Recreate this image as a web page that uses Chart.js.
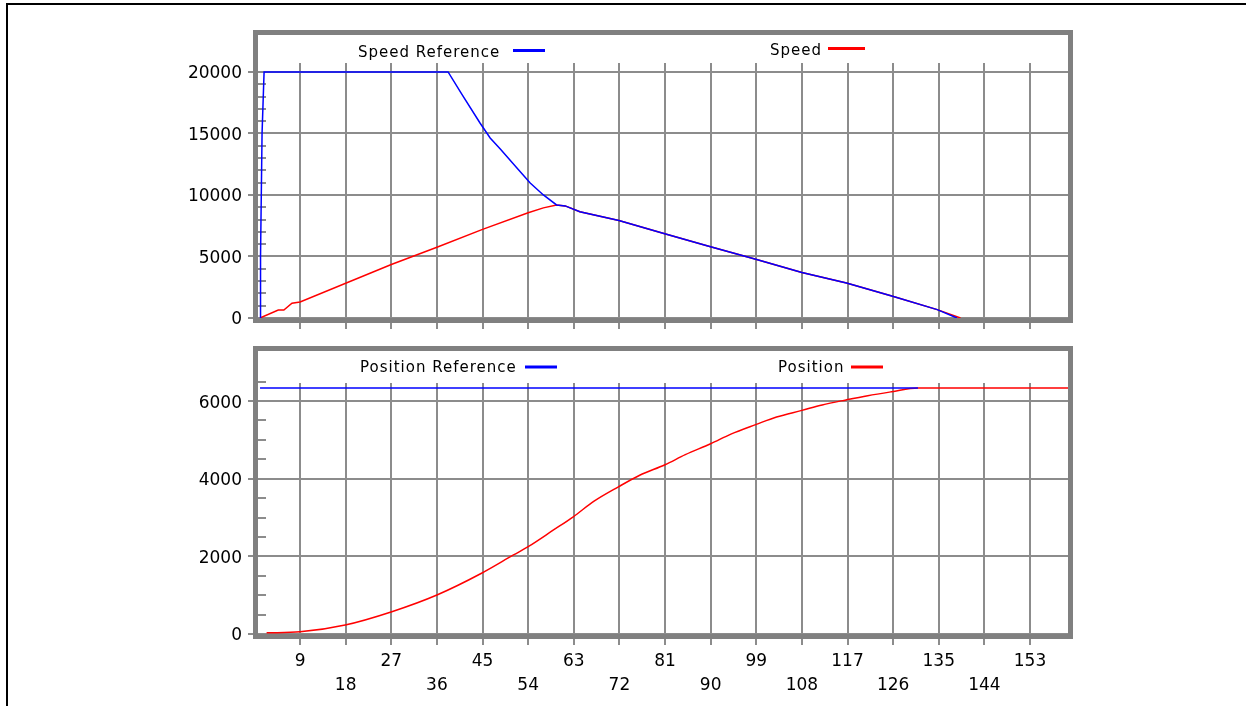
<!DOCTYPE html>
<html>
<head>
<meta charset="utf-8">
<script src="https://cdn.jsdelivr.net/npm/chart.js@4.4.1/dist/chart.umd.min.js"></script>
<style>
    html, body { margin: 0; padding: 0; background: #fff; }
    body { width: 1246px; height: 706px; position: relative; overflow: hidden; }
    #page { position: absolute; left: 6px; top: 3px; width: 1240px; height: 703px;
            border-left: 2px solid #000; border-top: 2px solid #000; box-sizing: border-box; }
    canvas { position: absolute; left: 0; top: 0; }
</style>
</head>
<body>
<div id="page"></div>
<canvas id="speedChart" width="1246" height="706"></canvas>
<canvas id="posChart" width="1246" height="706"></canvas>
<script>
// ---- data ----
const xTicks = [9, 18, 27, 36, 45, 54, 63, 72, 81, 90, 99, 108, 117, 126, 135, 144, 153];
const speedTicks = [0, 5000, 10000, 15000, 20000];
const posTicks = [0, 2000, 4000, 6000];

const speedRefX = [1.1, 1.2, 1.5, 1.9, 38.2, 40.9, 44.5, 46.5, 48.5, 51.7, 54.4, 57, 59.6, 61.3, 64.2, 71.9, 80.6, 89.8, 98.9, 108, 116.8, 125.9, 134.7, 138.6];
const speedRefY = [0, 5000, 15000, 20000, 20000, 18200, 15850, 14630, 13740, 12240, 10975, 10000, 9190, 9110, 8640, 7920, 6890, 5810, 4780, 3700, 2840, 1760, 680, 0];

const speedX = [1.1, 4.7, 5.8, 7.4, 9, 27, 36, 45, 54, 57, 59.6, 61.3, 64.2, 71.9, 80.6, 89.8, 98.9, 108, 116.8, 125.9, 134.7, 139.3];
const speedY = [0, 650, 650, 1200, 1300, 4350, 5750, 7200, 8550, 8950, 9190, 9110, 8640, 7920, 6890, 5810, 4780, 3700, 2840, 1760, 680, 0];

const posRefX = [1.1, 130.9];
const posRefY = [6340, 6340];

const posX = [2.4, 9, 17.9, 27.1, 36, 44.8, 51.1, 54, 59, 62.9, 67, 71.8, 76, 81, 85, 90, 94, 99, 103, 108, 112, 116.7, 121, 125.7, 130.9, 160.5];
const posY = [30, 55, 232, 575, 1005, 1565, 2036, 2250, 2680, 3020, 3420, 3790, 4090, 4360, 4620, 4900, 5150, 5400, 5590, 5760, 5900, 6030, 6140, 6240, 6340, 6340];

const toPoints = (xs, ys) => xs.map((x, i) => ({ x: x, y: ys[i] }));

const GRID = '#8c8c8c';
const FONT = 'DejaVu Sans';
const PAGE_H = 706;

// frame, minor ticks, legend strip
function makeFrame(cfg) {
    return {
        id: 'frame',
        beforeDatasetsDraw(chart) {
            const a = chart.chartArea, ctx = chart.ctx, y = chart.scales.y;
            ctx.save();
            ctx.fillStyle = '#fff';
            ctx.fillRect(a.left, a.top, a.right - a.left, cfg.gridTop - a.top);
            ctx.strokeStyle = GRID;
            ctx.lineWidth = 2;
            for (let v = cfg.minor; v <= cfg.minorMax; v += cfg.minor) {
                if (v % cfg.major === 0) continue;
                const py = Math.round(y.getPixelForValue(v));
                ctx.beginPath();
                ctx.moveTo(a.left, py);
                ctx.lineTo(a.left + 8, py);
                ctx.stroke();
            }
            ctx.restore();
        },
        afterDraw(chart) {
            const a = chart.chartArea, ctx = chart.ctx;
            ctx.save();
            ctx.strokeStyle = '#808080';
            ctx.lineWidth = 5;
            ctx.strokeRect(a.left - 2.5, a.top - 2.5, a.right - a.left + 5, a.bottom - a.top + 5);

            ctx.font = '15px "' + FONT + '"';
            ctx.letterSpacing = '1px';
            ctx.textBaseline = 'alphabetic';
            chart.data.datasets.forEach((ds, i) => {
                const p = cfg.legend[i];
                ctx.fillStyle = '#000';
                ctx.fillText(ds.label, p.x, p.y);
                ctx.strokeStyle = ds.borderColor;
                ctx.lineWidth = 3;
                ctx.beginPath();
                ctx.moveTo(p.lx1, p.ly);
                ctx.lineTo(p.lx2, p.ly);
                ctx.stroke();
            });
            ctx.restore();
        }
    };
}

function makeOptions(o) {
    return {
        responsive: false,
        animation: false,
        layout: { autoPadding: false, padding: { left: 0, right: 178, top: o.top, bottom: 0 } },
        plugins: { legend: { display: false }, tooltip: { enabled: false } },
        elements: { point: { radius: 0 }, line: { tension: 0 } },
        scales: {
            x: {
                type: 'linear',
                min: 0.7,
                max: 160.5,
                afterBuildTicks: s => { s.ticks = xTicks.map(v => ({ value: v })); },
                afterFit: s => { s.height = PAGE_H - o.bottom; },
                border: { display: false },
                grid: { color: GRID, lineWidth: 2, tickLength: 11, tickColor: GRID, tickWidth: 2 },
                ticks: {
                    display: o.xLabels,
                    autoSkip: false,
                    maxRotation: 0,
                    padding: 5,
                    color: '#000',
                    font: { family: FONT, size: 17, lineHeight: 1.4 },
                    callback: (v, i) => i % 2 === 0 ? [String(v), ''] : ['', String(v)]
                }
            },
            y: {
                min: 0,
                max: o.yMax,
                afterBuildTicks: s => { s.ticks = o.yTicks.map(v => ({ value: v })); },
                afterFit: s => { s.width = 258; },
                border: { display: false },
                grid: { color: GRID, lineWidth: 2, tickLength: 10, tickColor: GRID, tickWidth: 2 },
                ticks: {
                    padding: 6,
                    labelOffset: 2,
                    color: '#000',
                    font: { family: FONT, size: 17 },
                    callback: v => String(v)
                }
            }
        }
    };
}

new Chart(document.getElementById('speedChart'), {
    type: 'line',
    data: {
        datasets: [
            { label: 'Speed Reference', data: toPoints(speedRefX, speedRefY), borderColor: '#0000ff', borderWidth: 1.5, fill: false },
            { label: 'Speed', data: toPoints(speedX, speedY), borderColor: '#ff0000', borderWidth: 1.5, fill: false }
        ]
    },
    options: makeOptions({ top: 35, bottom: 318, yMax: 23000, yTicks: speedTicks, xLabels: false }),
    plugins: [makeFrame({
        gridTop: 63, minor: 1000, major: 5000, minorMax: 20000,
        legend: [
            { x: 358, y: 56.5, lx1: 513, lx2: 545, ly: 50.5 },
            { x: 770, y: 54.5, lx1: 828, lx2: 865, ly: 48.5 }
        ]
    })]
});

new Chart(document.getElementById('posChart'), {
    type: 'line',
    data: {
        datasets: [
            { label: 'Position Reference', data: toPoints(posRefX, posRefY), borderColor: '#0000ff', borderWidth: 1.5, fill: false },
            { label: 'Position', data: toPoints(posX, posY), borderColor: '#ff0000', borderWidth: 1.5, fill: false, cubicInterpolationMode: 'monotone' }
        ]
    },
    options: makeOptions({ top: 351, bottom: 634, yMax: 7290, yTicks: posTicks, xLabels: true }),
    plugins: [makeFrame({
        gridTop: 383, minor: 500, major: 2000, minorMax: 6500,
        legend: [
            { x: 360, y: 372, lx1: 525, lx2: 557, ly: 367 },
            { x: 778, y: 372, lx1: 851, lx2: 883, ly: 367 }
        ]
    })]
});
</script>
</body>
</html>
